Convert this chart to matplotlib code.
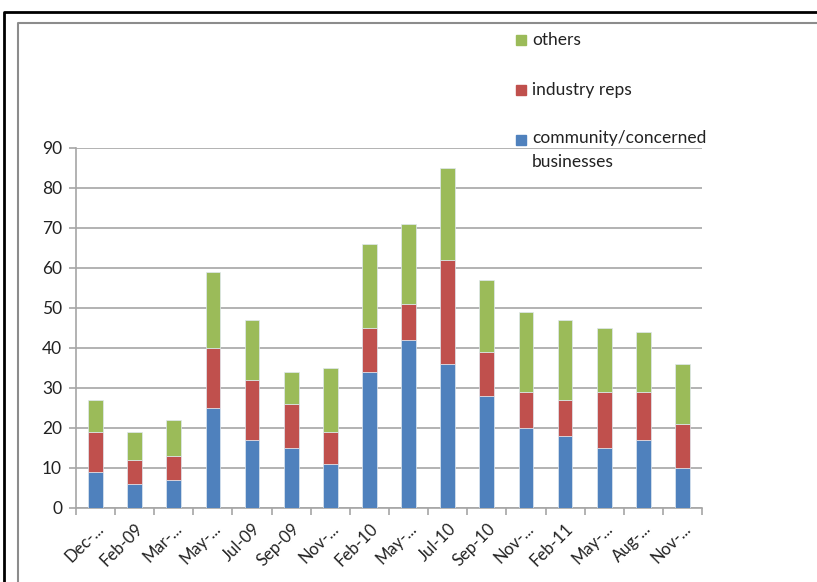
import matplotlib.pyplot as plt
from matplotlib.patches import Rectangle
from matplotlib.lines import Line2D
import numpy as np

plt.rcParams['font.family'] = ['Lato', 'DejaVu Sans']

months = ['Dec-...', 'Feb-09', 'Mar-...', 'May-...', 'Jul-09', 'Sep-09', 'Nov-...', 'Feb-10',
          'May-...', 'Jul-10', 'Sep-10', 'Nov-...', 'Feb-11', 'May-...', 'Aug-...', 'Nov-...']
community = [9, 6, 7, 25, 17, 15, 11, 34, 42, 36, 28, 20, 18, 15, 17, 10]
industry = [10, 6, 6, 15, 15, 11, 8, 11, 9, 26, 11, 9, 9, 14, 12, 11]
others = [8, 7, 9, 19, 15, 8, 16, 21, 20, 23, 18, 20, 20, 16, 15, 15]

labels = ['community/concerned\nbusinesses', 'industry reps', 'others']
colors = ['#4F81BD', '#C0504D', '#9BBB59']

W, H = 817, 582
fig = plt.figure(figsize=(W / 100, H / 100), dpi=100)
ax = fig.add_axes([76 / W, 1 - 508 / H, (702 - 76) / W, (508 - 148) / H])

x = np.arange(len(months))
bottom = np.zeros(len(months))
for vals, c in zip([community, industry, others], colors):
    ax.bar(x, vals, 0.38, bottom=bottom, color=c, edgecolor='#dfe8f0', linewidth=0.5, zorder=3)
    bottom += np.array(vals)

ax.set_xlim(-0.5, len(months) - 0.5)
ax.set_ylim(0, 90)
ax.set_yticks(range(0, 91, 10))
ax.yaxis.grid(True, color='#a6a6a6', linewidth=1.2, zorder=0)
for s in ['top', 'right']:
    ax.spines[s].set_visible(False)
for s in ['left', 'bottom']:
    ax.spines[s].set_color('#a6a6a6')
    ax.spines[s].set_linewidth(1.2)

ax.set_xticks(x)
ax.set_xticklabels(months, rotation=45, ha='right', rotation_mode='anchor', fontsize=12, color='#222222')
ax.tick_params(axis='x', length=0, pad=9)
ax.set_xticks(np.arange(-0.5, len(months), 1), minor=True)
ax.tick_params(axis='x', which='minor', length=5, color='#a6a6a6', width=1.2)
ax.tick_params(axis='y', length=5, color='#a6a6a6', width=1.2, labelsize=12.5, labelcolor='#222222', pad=5)

# legend drawn by hand, top to bottom
leg_y = [40, 90, 140]
for yy, lab, c in zip(leg_y, labels[::-1], colors[::-1]):
    fig.patches.append(Rectangle((516 / W, 1 - (yy + 5) / H), 10 / W, 10 / H,
                                 transform=fig.transFigure, color=c))
    fig.text(532 / W, 1 - yy / H, lab, fontsize=12.5, color='#222222', va='top' if '\n' in lab else 'center',
             linespacing=1.65)
# multi-line label starts from its first line centre
fig.texts[-1].set_position((532 / W, 1 - (leg_y[2] - 10) / H))

# outer frames
fig.add_artist(Line2D([4 / W, 4 / W, 1], [0, 1 - 12 / H, 1 - 12 / H], color='black', linewidth=2,
                      transform=fig.transFigure))
fig.add_artist(Line2D([18 / W, 18 / W, 1], [0, 1 - 23 / H, 1 - 23 / H], color='#8c8c8c', linewidth=1.5,
                      transform=fig.transFigure))

plt.savefig('out.png', dpi=100)
